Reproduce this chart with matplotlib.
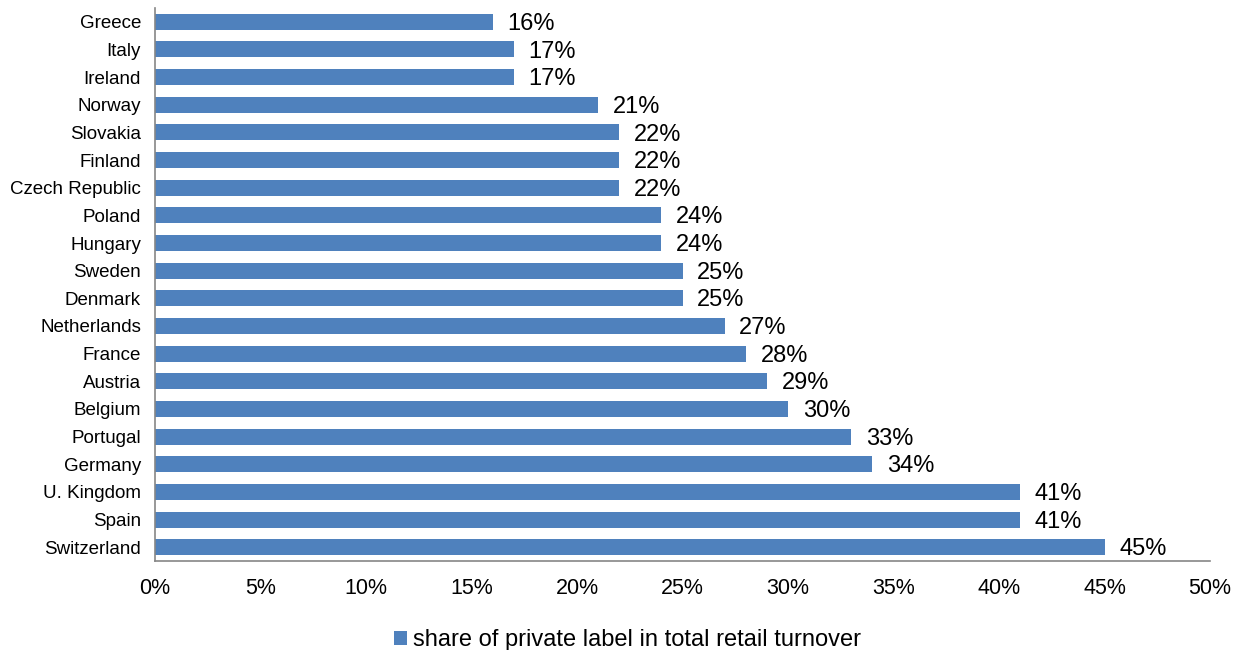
import matplotlib.pyplot as plt
from matplotlib.ticker import FuncFormatter

plt.rcParams['font.family'] = ['Liberation Sans', 'DejaVu Sans']

# share of private label, top to bottom as shown
countries = ['Greece', 'Italy', 'Ireland', 'Norway', 'Slovakia', 'Finland',
             'Czech Republic', 'Poland', 'Hungary', 'Sweden', 'Denmark',
             'Netherlands', 'France', 'Austria', 'Belgium', 'Portugal',
             'Germany', 'U. Kingdom', 'Spain', 'Switzerland']
shares = [16, 17, 17, 21, 22, 22, 22, 24, 24, 25, 25,
          27, 28, 29, 30, 33, 34, 41, 41, 45]
xticks = [0, 5, 10, 15, 20, 25, 30, 35, 40, 45, 50]

bar_color = '#4F81BD'

fig = plt.figure(figsize=(12.39, 6.5), dpi=100)
ax = fig.add_axes([0.1251, 0.1369, 0.8515, 0.8508])

ypos = list(range(len(countries)))
bars = ax.barh(ypos, shares, height=0.58, color=bar_color,
               label='share of private label in total retail turnover')
ax.set_ylim(len(countries) - 0.5, -0.5)
ax.set_xlim(0, 50)

ax.set_yticks(ypos)
ax.set_yticklabels(countries, fontsize=13.5)
ax.set_xticks(xticks)
ax.xaxis.set_major_formatter(FuncFormatter(lambda v, p: f'{v:.0f}%'))
ax.tick_params(axis='x', labelsize=15.5, length=0, pad=12)
ax.tick_params(axis='y', length=0, pad=10)

for s in ['top', 'right']:
    ax.spines[s].set_visible(False)
for s in ['left', 'bottom']:
    ax.spines[s].set_color('#868686')
    ax.spines[s].set_linewidth(1.2)

for b, v in zip(bars, shares):
    ax.annotate(f'{v}%', (b.get_width(), b.get_y() + b.get_height() / 2),
                xytext=(10.5, -1.5), textcoords='offset points',
                va='center', ha='left', fontsize=17)

ax.legend(loc='upper center', bbox_to_anchor=(0.448, -0.085), frameon=False,
          fontsize=17, handlelength=0.55, handleheight=0.55, handletextpad=0.25)

fig.savefig('out.png', dpi=100)
